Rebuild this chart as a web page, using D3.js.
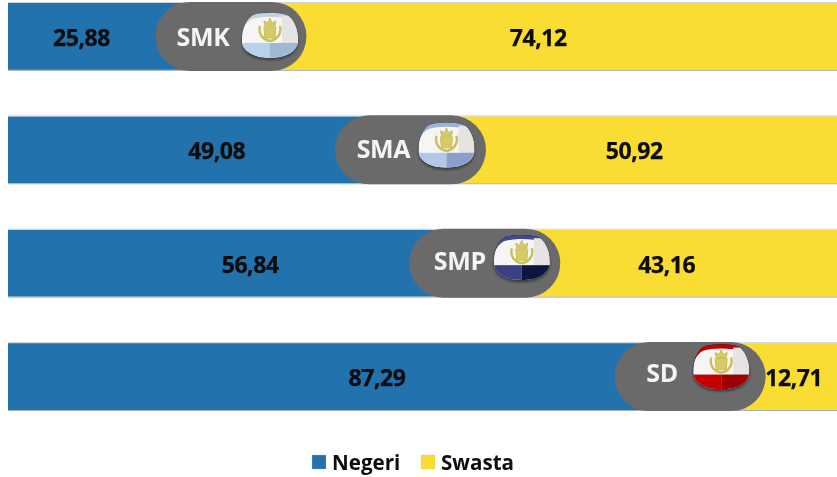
<!DOCTYPE html>
<html><head><meta charset="utf-8">
<script src="https://cdn.jsdelivr.net/npm/d3@7/dist/d3.min.js"></script>
<style>html,body{margin:0;padding:0;background:#fff;overflow:hidden}svg{display:block}text{font-family:"Open Sans",sans-serif}</style>
</head><body><div id="c"></div>
<script>
const levels = ["SMK","SMA","SMP","SD"];
const negeri = [25.88,49.08,56.84,87.29];
const swasta = [74.12,50.92,43.16,12.71];
const negeriLabels = ["25,88","49,08","56,84","87,29"];
const swastaLabels = ["74,12","50,92","43,16","12,71"];
const negeriLabelAt = [8.8,25,29,44.2];
const swastaLabelAt = [63.5,75,78.9,94.1];
const pillAt = [26.7,48.2,57.1,81.7];
const rim = ["#c3d3df","#9db2dc","#3f4a8c","#c00000"];
const bandLeft = ["#b7d2ea","#b4c7e9","#3a3f82","#c60000"];
const bandRight = ["#9fb9d2","#8a9fcb","#10163f","#9c0000"];
const legendNames = ["Negeri","Swasta"];

const W=837,H=477;
const colors={Negeri:"#2472ad",Swasta:"#f9dd33"};
const layout={
  pillTextDx:[-28,-27,-25,-28], pillTextDy:[9.5,8,7,5],
  badgeDx:[39,36,37,31], badgeDy:[-1.5,-5,-6,-10]
};
const x=d3.scaleLinear().domain([0,100]).range([8,843]);
const y=d3.scaleBand().domain(levels).range([3,410]).paddingInner(0.41);
const svg=d3.select("#c").append("svg").attr("width",W).attr("height",H);
const defs=svg.append("defs");
const shape="M-28,6C-28,-6 -24,-16 -17,-20C-8,-23 8,-23 17,-20C24,-16 28,-6 28,6C28,14 20,20 10,22C4,23 -4,23 -10,22C-20,20 -28,14 -28,6Z";
defs.append("clipPath").attr("id","peb").append("path").attr("d",shape);
const sh=defs.append("filter").attr("id","sh").attr("x","-30%").attr("y","-30%").attr("width","160%").attr("height","160%");
sh.append("feDropShadow").attr("dx",0).attr("dy",2).attr("stdDeviation",1.8).attr("flood-color","#000").attr("flood-opacity",.5);
defs.append("filter").attr("id","soft").append("feGaussianBlur").attr("stdDeviation",.45);
const root=svg.append("g").attr("filter","url(#soft)");

const rows=root.selectAll("g.row").data(levels).join("g").attr("class","row");
rows.append("rect").attr("x",x(0)).attr("y",d=>y(d)).attr("height",y.bandwidth())
  .attr("width",(d,i)=>x(negeri[i])-x(0)).attr("fill",colors.Negeri);
rows.append("rect").attr("x",(d,i)=>x(negeri[i])).attr("y",d=>y(d)).attr("height",y.bandwidth())
  .attr("width",(d,i)=>x(swasta[i])-x(0)).attr("fill",colors.Swasta);
rows.append("line").attr("x1",x(0)).attr("x2",W).attr("y1",d=>y(d)+y.bandwidth()+.5).attr("y2",d=>y(d)+y.bandwidth()+.5)
  .attr("stroke","#a9adb0").attr("stroke-width",1);
rows.append("line").attr("x1",x(0)).attr("x2",W).attr("y1",d=>y(d)-.5).attr("y2",d=>y(d)-.5)
  .attr("stroke","#d4d4d4").attr("stroke-width",1);

const valueText=(sel,at,labels)=>sel.append("text").attr("x",(d,i)=>x(at[i])).attr("y",d=>y(d)+y.bandwidth()/2+9.5)
  .attr("text-anchor","middle").attr("font-size",23).attr("font-weight",700).attr("letter-spacing",-.45)
  .attr("stroke","#0b0b0b").attr("stroke-width",.25).attr("fill","#0b0b0b").text((d,i)=>labels[i]);
valueText(rows,negeriLabelAt,negeriLabels);

const pillW=151,pillH=69;
const pills=rows.append("g").attr("transform",(d,i)=>`translate(${x(pillAt[i])},${y(d)+y.bandwidth()/2})`);
pills.append("rect").attr("x",-pillW/2).attr("y",-pillH/2).attr("width",pillW).attr("height",pillH)
  .attr("rx",pillH/2).attr("fill","#6b6b6b");
pills.append("text").attr("x",(d,i)=>layout.pillTextDx[i]).attr("y",(d,i)=>layout.pillTextDy[i]).attr("text-anchor","middle")
  .attr("font-size",25).attr("font-weight",700).attr("letter-spacing",-.3).attr("fill","#f4f4f4").text(d=>d);

const badge=pills.append("g").attr("transform",(d,i)=>`translate(${layout.badgeDx[i]},${layout.badgeDy[i]})`);
badge.append("path").attr("d",shape).attr("fill","#000").attr("filter","url(#sh)");
const inner=badge.append("g").attr("clip-path","url(#peb)");
inner.append("rect").attr("x",-30).attr("y",-24).attr("width",60).attr("height",50).attr("fill",(d,i)=>rim[i]);
inner.append("path").attr("d",shape).attr("transform","translate(0,3.5) scale(1.06,.97)").attr("fill","#f6f5f5");
inner.append("rect").attr("x",12).attr("y",-19).attr("width",18).attr("height",28).attr("fill","#e6e3e3");
inner.append("rect").attr("x",-30).attr("y",8).attr("width",30).attr("height",18).attr("fill",(d,i)=>bandLeft[i]);
inner.append("rect").attr("x",0).attr("y",8).attr("width",30).attr("height",18).attr("fill",(d,i)=>bandRight[i]);
const crown=badge.append("g").attr("fill","none").attr("stroke","#c9bf55").attr("stroke-width",2.4);
crown.append("path").attr("d","M-10,-9C-12,-1 -7,5 0,6C7,5 12,-1 10,-9");
crown.append("path").attr("d","M-6,-8L6,-8L5,3L-5,3Z").attr("fill","#d6cb66").attr("stroke-width",1);
crown.append("path").attr("d","M-5,-9L-6,-14L-2,-12L0,-17L2,-12L6,-14L5,-9Z").attr("fill","#d6cb66").attr("stroke-width",1);

valueText(rows,swastaLabelAt,swastaLabels);

const leg=root.selectAll("g.leg").data(legendNames).join("g").attr("class","leg")
  .attr("transform",(d,i)=>`translate(${[312,421][i]},455)`);
leg.append("rect").attr("width",14).attr("height",14).attr("fill",d=>colors[d]).attr("stroke","#bdbdbd").attr("stroke-opacity",.5).attr("stroke-width",.5);
leg.append("text").attr("x",20).attr("y",15).attr("font-size",20.6).attr("font-weight",700).attr("fill","#111").text(d=>d);
</script></body></html>
